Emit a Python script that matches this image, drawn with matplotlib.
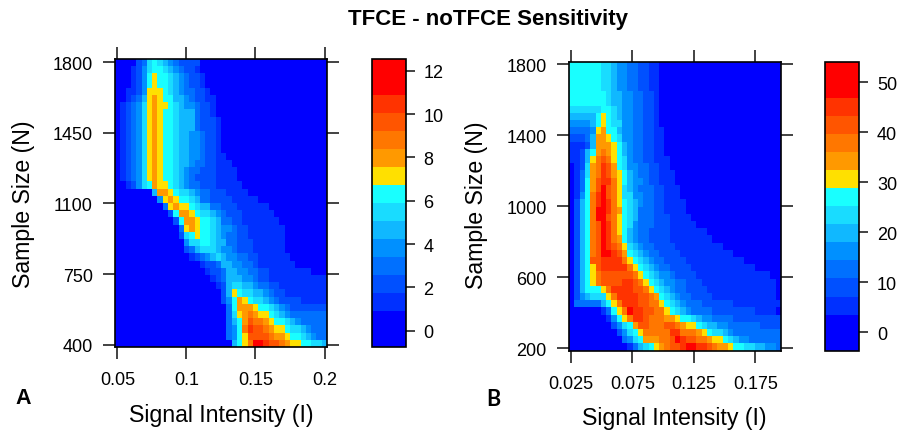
import numpy as np
import matplotlib
matplotlib.use('Agg')
import matplotlib.pyplot as plt
from matplotlib.colors import ListedColormap

# colour levels, top row first, one hex digit per cell
# 0 = deep blue ... 7 = cyan, 8 = gold ... d = red, rows padded with 0 on the right
levels_a = [
    "0000236765432222",
    "0001246776543221",
    "00012478776543221",
    "00012478776543221",
    "001124888765433221",
    "0012358987755432211",
    "0123468988765443221",
    "0123468987765553221",
    "01234689877655532221",
    "01234689877655532221",
    "01234689877655443221",
    "01234689877655443221",
    "01234689877655443221",
    "012346898776554432211",
    "0123468987765543322111",
    "01234689877654332221111",
    "01234689877654322221111",
    "001246798876543322211111",
    "0000000599876654332221111",
    "000000004898776533222211111",
    "00000000038988765533222111111",
    "000000000027998766543222111111",
    "0000000000027998776533221111111",
    "00000000000038987765443221111111",
    "00000000000026787765433221111111",
    "00000000000004667765533222111111",
    "00000000000002356665443222111111",
    "000000000000001234565443322111111",
    "0000000000000000122355443321111111",
    "0000000000000000012235544332211111111",
    "0000000000000000001235554432211111111111",
    "0000000000000000000125665543322111111111",
    "0000000000000000000025876655432211111111",
    "0000000000000000000024798766543222211111",
    "0000000000000000000003799987765432222222",
    "000000000000000000000 3689a98876543333333",
    "000000000000000000000 3579baa987765433333",
    "000000000000000000000 347acbba98876654333",
    "000000000000000000000 3478bbbba9987765433",
    "000000000000000000000 0578addcbba98877665",
]

levels_b = [
    "77777766544332211",
    "77777766544332211",
    "77777766544332211",
    "77777766544332211",
    "77777776554433221",
    "77777776554433221",
    "66666677654433221",
    "55555787654433221",
    "44445787664433221",
    "333348977544332211",
    "222359987644332211",
    "111259998754332211",
    "112579a98754332211",
    "11258aba87643322111",
    "01269acb97644332211",
    "01369acb987543322111",
    "01379bcca87544322111",
    "01379bdba865433322111",
    "0147acdba86644332 2111",
    "0257acdca8765433221111",
    "0257addca9765333221111",
    "0257addba87653332221111",
    "0257abdca876433322211111",
    "0257abdca8754332222 1111111",
    "0257abdca9754332222 11111111",
    "0257abdcba8654332222 111111111",
    "0257abddcb97654332222 1111111111",
    "0257bbcccca87654332222 11111111111",
    "02578bccccca87654332222 111111111111",
    "02578abbbbbba87654432222 11111111111111",
    "02578abbbbccba87654433222 11111111111111",
    "0257778accccbba87654332222 1111111111111",
    "024566 68accccbba976543322 22 111111111111",
    "03333357 8acccbbaa87654333 2222 22111111111",
    "000000137 8adccbbaa87654 3333222222221111",
    "00000001478accbaaa99877 6 5443333222222222",
    "00000000 2467 9bbaaabba9 88765544 33333 32222",
    "000000000 24678aaaaacca aa98766 54 333333333",
    "0000000000 34679 99aabdcbbaa988 76 54 4333333",
    "00000000000 1356 789abbcddccba 9987 76 65 5 443",
]

# colours of the key, bottom to top: end colours span two cells
key_colors = ['#0000FF', '#0000FF', '#0030FF', '#0050FF', '#0070FF', '#0090FF',
              '#10B8FF', '#19DCFF', '#19FFFF', '#FFE000', '#FF9900', '#FF7700',
              '#FF5500', '#FF3300', '#FF0000', '#FF0000']

title = 'TFCE - noTFCE Sensitivity'
xlabel = 'Signal Intensity (I)'
ylabel = 'Sample Size (N)'

xticks_a = [0.05, 0.1, 0.15, 0.2]
yticks_a = [400, 750, 1100, 1450, 1800]
cticks_a = [0, 2, 4, 6, 8, 10, 12]
xticks_b = [0.025, 0.075, 0.125, 0.175]
yticks_b = [200, 600, 1000, 1400, 1800]
cticks_b = [0, 10, 20, 30, 40, 50]

W, H = 902, 439
plt.rcParams['font.family'] = ['Liberation Sans', 'DejaVu Sans']
cmap = ListedColormap(key_colors)


def box(l, t, r, b):
    # pixel box of the picture to figure fractions
    return [l / W, 1 - b / H, (r - l) / W, (b - t) / H]


def to_values(rows, vmin, vmax):
    step = (vmax - vmin) / len(key_colors)
    out = []
    for row in rows:
        row = row.replace(' ', '').ljust(40, '0')[:40]
        lv = np.array([int(c, 16) for c in row], dtype=float)
        lv[lv > 0] += 1
        out.append(vmin + step * (lv + 0.5))
    return np.array(out)[::-1]


def heat_panel(fig, rows, ax_box, xlim, ylim, xticks, yticks, cax_box, vlim, cticks,
               letter, letter_pos, letter_font, ylab_pos, xlab_pos):
    ax = fig.add_axes(box(*ax_box))
    xe = np.linspace(xlim[0], xlim[1], 41)
    ye = np.linspace(ylim[0], ylim[1], 41)
    mesh = ax.pcolormesh(xe, ye, to_values(rows, vlim[0], vlim[1]), cmap=cmap,
                         vmin=vlim[0], vmax=vlim[1])
    ax.set_xlim(xlim)
    ax.set_ylim(ylim)
    ax.set_xticks(xticks)
    ax.set_xticklabels([str(v) for v in xticks])
    ax.set_yticks(yticks)
    ax.tick_params(axis='both', which='both', top=True, right=True, length=8.5,
                   width=1.2, color='#222222', labelsize=13)
    ax.tick_params(axis='x', pad=9)
    ax.tick_params(axis='y', pad=7.5)
    for s in ax.spines.values():
        s.set_linewidth(1.2)

    cax = fig.add_axes(box(*cax_box))
    cb = fig.colorbar(mesh, cax=cax, ticks=cticks)
    cb.ax.tick_params(length=6.2, width=1.2, color='#222222', labelsize=13, pad=6.5)
    cb.outline.set_linewidth(1.2)

    fig.text(ylab_pos[0] / W, 1 - ylab_pos[1] / H, ylabel, rotation=90,
             ha='center', va='center', fontsize=16.7)
    fig.text(xlab_pos[0] / W, 1 - xlab_pos[1] / H, xlabel,
             ha='center', va='center', fontsize=16.7)
    fig.text(letter_pos[0] / W, 1 - letter_pos[1] / H, letter, ha='center', va='center',
             family=letter_font, fontweight='bold', fontsize=15.5)


def main():
    fig = plt.figure(figsize=(W / 100, H / 100), dpi=100)
    heat_panel(fig, levels_a, (115, 60, 327, 348), (0.0483, 0.2018), (388.6, 1816),
               xticks_a, yticks_a, (372, 60, 405.7, 348), (-0.75, 12.54),
               cticks_a, 'A', (23, 399), 'Liberation Sans', (24, 204), (221, 416))
    heat_panel(fig, levels_b, (569, 63.3, 781, 351.7), (0.0233, 0.1960), (185, 1811),
               xticks_b, yticks_b, (825.3, 62.7, 859.3, 351.7), (-3.7, 54.1),
               cticks_b, 'B', (493, 400), 'Lato', (477, 205), (674.5, 419))
    fig.text(488 / W, 1 - 19 / H, title, ha='center', va='center',
             fontweight='bold', fontsize=16)
    fig.savefig('out.png', dpi=100)


if __name__ == "__main__":
    main()
